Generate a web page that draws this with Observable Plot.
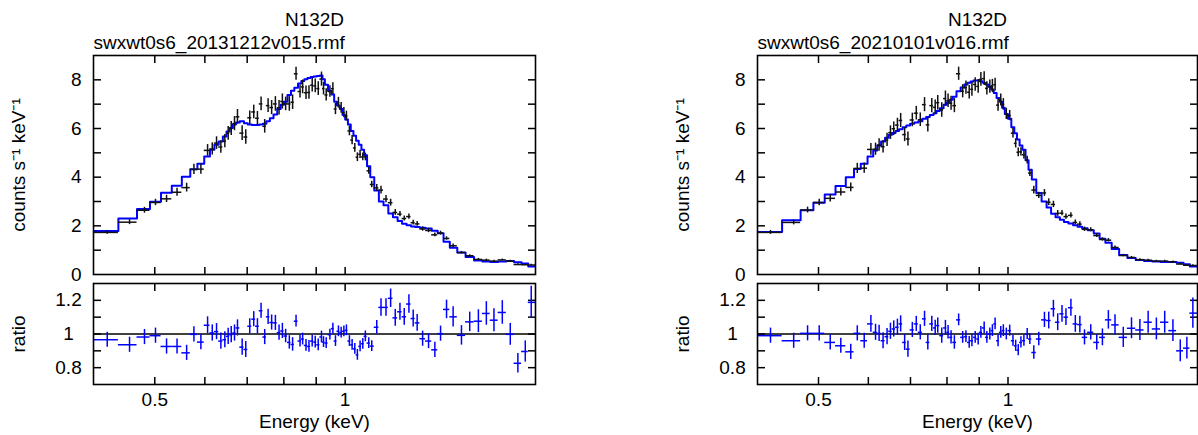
<!DOCTYPE html>
<html><head><meta charset="utf-8">
<script src="https://cdn.jsdelivr.net/npm/d3@7"></script>
<script src="https://cdn.jsdelivr.net/npm/@observablehq/plot@0.6"></script>
<style>
body{margin:0;background:#fff;}
#wrap{position:relative;width:1198px;height:435px;overflow:hidden;background:#fff;}
.holder{position:absolute;}
</style></head><body><div id="wrap"></div>
<script>
// ---------- axes / ticks ----------
const xDomain = [0.4, 2.0];
const countDomain = [0, 9];
const ratioDomain = [0.7, 1.3];
const xTicks = [0.5, 0.6, 0.7, 0.8, 0.9, 1];
const xLabels = [0.5, 1];
const countTicks = [1, 2, 3, 4, 5, 6, 7, 8];
const countLabels = [0, 2, 4, 6, 8];
const ratioTicks = [0.8, 0.9, 1.0, 1.1, 1.2];
const ratioLabels = [0.8, 1, 1.2];
const titleText = "N132D";
const rmfLeft = "swxwt0s6_20131212v015.rmf";
const rmfRight = "swxwt0s6_20210101v016.rmf";
const yLabelTop = "counts s\u207B\u00B9 keV\u207B\u00B9";
const yLabelBottom = "ratio";
const xLabelText = "Energy (keV)";

// ---------- left panel (2013) ----------
const energyL = [0.4205,0.4561,0.4816,0.5013,0.5219,0.5422,0.5615,0.5766,0.5914,0.6060,
 0.6164,0.6261,0.6360,0.6453,0.6532,0.6605,0.6684,0.6757,0.6873,0.6964,
 0.7066,0.7169,0.7266,0.7363,0.7461,0.7554,0.7652,0.7757,0.7861,0.7957,
 0.8052,0.8161,0.8259,0.8363,0.8485,0.8566,0.8672,0.8766,0.8870,0.8968,
 0.9067,0.9175,0.9243,0.9334,0.9460,0.9563,0.9654,0.9759,0.9856,0.9954,
 1.0047,1.0157,1.0257,1.0358,1.0456,1.0559,1.0664,1.0764,1.0898,1.1018,
 1.1220,1.1395,1.1604,1.1802,1.2002,1.2209,1.2401,1.2614,1.2812,1.2999,
 1.3259,1.3549,1.3864,1.4154,1.4466,1.4817,1.5274,1.5740,1.6245,1.6723,
 1.7192,1.7723,1.8245,1.8757,1.9269,1.9691];
const countsL = [1.73,2.15,2.64,2.96,3.11,3.38,3.57,4.32,4.33,5.10,
 5.16,5.40,5.24,5.48,5.80,6.00,6.20,6.48,5.81,5.65,
 6.44,6.68,6.42,7.01,6.09,6.94,6.86,7.01,6.85,7.11,
 7.01,7.01,7.08,8.25,7.52,7.71,7.47,7.48,7.78,7.75,
 7.64,8.03,7.64,7.38,7.52,7.64,6.80,7.06,6.85,6.65,
 6.51,5.90,5.52,5.20,4.82,4.94,4.83,4.83,4.26,3.70,
 3.56,3.47,3.10,2.95,2.55,2.48,2.30,2.38,2.13,2.08,
 1.87,1.81,1.63,1.70,1.48,1.18,0.90,0.77,0.62,0.59,
 0.55,0.60,0.55,0.41,0.40,0.39];
const countsErrL = [0.08,0.10,0.12,0.13,0.15,0.16,0.18,0.21,0.21,0.24,
 0.25,0.26,0.26,0.27,0.28,0.29,0.29,0.30,0.30,0.30,
 0.28,0.28,0.28,0.28,0.28,0.28,0.29,0.30,0.30,0.31,
 0.28,0.30,0.30,0.27,0.27,0.28,0.28,0.28,0.28,0.28,
 0.28,0.29,0.26,0.25,0.24,0.24,0.23,0.22,0.22,0.21,
 0.20,0.20,0.19,0.18,0.18,0.17,0.16,0.16,0.14,0.13,
 0.14,0.16,0.15,0.14,0.12,0.11,0.10,0.11,0.10,0.10,
 0.09,0.09,0.08,0.08,0.07,0.07,0.05,0.04,0.04,0.04,
 0.035,0.035,0.035,0.03,0.03,0.03];
const modelL = [1.79,2.30,2.69,2.99,3.36,3.65,4.02,4.33,4.55,4.85,
 5.13,5.33,5.47,5.67,5.88,6.02,6.16,6.25,6.30,6.22,
 6.16,6.14,6.14,6.16,6.20,6.30,6.42,6.58,6.80,6.98,
 7.10,7.38,7.55,7.67,7.85,7.95,8.02,8.08,8.12,8.14,
 8.16,8.18,8.02,7.80,7.55,7.40,7.10,6.95,6.80,6.55,
 6.37,6.16,5.90,5.70,5.50,5.33,5.13,4.90,4.45,4.00,
 3.45,3.00,2.85,2.51,2.35,2.20,2.09,2.02,1.97,1.95,
 1.92,1.89,1.80,1.70,1.35,1.10,0.90,0.72,0.58,0.53,
 0.51,0.53,0.55,0.50,0.45,0.33];
const ratioL = [0.966,0.936,0.982,0.990,0.926,0.926,0.888,0.998,0.952,1.052,
 1.006,1.014,0.958,0.966,0.986,0.996,1.006,1.036,0.922,0.908,
 1.046,1.088,1.046,1.138,0.982,1.102,1.068,1.066,1.008,1.018,
 0.988,0.950,0.938,1.076,0.958,0.970,0.932,0.926,0.958,0.952,
 0.936,0.982,0.952,0.946,0.996,1.032,0.958,1.016,1.008,1.016,
 1.022,0.958,0.936,0.912,0.876,0.926,0.942,0.986,0.946,0.928,
 1.040,1.158,1.158,1.212,1.096,1.132,1.102,1.178,1.092,1.066,
 0.972,0.958,0.906,1.002,1.146,1.102,0.992,1.072,1.076,1.122,
 1.082,1.128,0.998,0.826,0.896,1.188];
const ratioErrL = [0.045,0.045,0.045,0.045,0.045,0.045,0.045,0.045,0.045,0.05,
 0.048,0.048,0.048,0.048,0.048,0.048,0.048,0.048,0.048,0.048,
 0.045,0.045,0.045,0.045,0.045,0.045,0.045,0.045,0.045,0.045,
 0.04,0.04,0.04,0.035,0.035,0.035,0.035,0.035,0.035,0.035,
 0.035,0.035,0.032,0.032,0.032,0.032,0.032,0.032,0.032,0.032,
 0.032,0.032,0.032,0.032,0.032,0.032,0.032,0.032,0.032,0.032,
 0.04,0.052,0.052,0.055,0.05,0.05,0.05,0.055,0.05,0.05,
 0.045,0.045,0.045,0.045,0.055,0.06,0.058,0.058,0.068,0.07,
 0.068,0.07,0.065,0.058,0.063,0.095];

// ---------- right panel (2021) ----------
const energyR = [0.4195,0.4566,0.4804,0.5013,0.5219,0.5425,0.5626,0.5762,0.5910,0.6056,
 0.6160,0.6241,0.6332,0.6425,0.6505,0.6584,0.6673,0.6753,0.6852,0.6935,
 0.7047,0.7150,0.7255,0.7369,0.7458,0.7567,0.7662,0.7734,0.7848,0.7954,
 0.8032,0.8120,0.8219,0.8348,0.8472,0.8574,0.8677,0.8764,0.8869,0.8967,
 0.9056,0.9165,0.9256,0.9357,0.9445,0.9539,0.9643,0.9739,0.9831,0.9938,
 1.0062,1.0183,1.0285,1.0382,1.0484,1.0599,1.0727,1.0832,1.0990,1.1191,
 1.1426,1.1607,1.1807,1.1994,1.2183,1.2361,1.2587,1.2792,1.3006,1.3229,
 1.3535,1.3836,1.4125,1.4436,1.4791,1.5245,1.5711,1.6200,1.6696,1.7207,
 1.7739,1.8281,1.8778,1.9237,1.9664];
const countsR = [1.73,2.14,2.65,2.96,3.13,3.39,3.58,4.36,4.37,5.14,
 5.15,5.32,5.25,5.53,5.83,5.99,6.14,6.33,5.75,5.57,
 6.35,6.63,6.36,6.98,6.15,6.94,6.87,7.06,6.76,7.23,
 7.14,7.04,6.94,8.25,7.53,7.68,7.49,7.61,7.81,7.73,
 8.02,8.05,7.65,7.72,7.75,7.80,6.96,7.17,6.99,6.60,
 6.53,5.81,5.39,5.02,5.04,4.92,4.70,4.17,3.47,3.25,
 3.35,2.97,2.88,2.51,2.52,2.38,2.43,2.14,2.07,1.86,
 1.84,1.60,1.44,1.41,1.11,0.78,0.70,0.61,0.59,0.55,
 0.55,0.52,0.43,0.38,0.37];
const countsErrR = [0.08,0.10,0.12,0.13,0.15,0.16,0.18,0.21,0.21,0.24,
 0.25,0.26,0.26,0.27,0.28,0.28,0.28,0.29,0.29,0.29,
 0.28,0.28,0.28,0.29,0.29,0.29,0.30,0.30,0.30,0.31,
 0.28,0.29,0.29,0.27,0.27,0.27,0.28,0.28,0.28,0.28,
 0.28,0.28,0.27,0.27,0.27,0.26,0.25,0.25,0.24,0.23,
 0.21,0.20,0.19,0.18,0.17,0.17,0.16,0.14,0.16,0.13,
 0.14,0.14,0.13,0.12,0.11,0.11,0.11,0.10,0.10,0.09,
 0.08,0.08,0.07,0.07,0.06,0.05,0.04,0.04,0.035,0.035,
 0.035,0.035,0.03,0.03,0.03];
const modelR = [1.75,2.23,2.64,2.95,3.29,3.64,4.00,4.34,4.55,4.85,
 5.10,5.30,5.47,5.62,5.74,5.82,5.90,5.97,6.05,6.12,
 6.20,6.25,6.30,6.40,6.47,6.55,6.63,6.72,6.83,6.98,
 7.07,7.18,7.30,7.53,7.68,7.81,7.88,7.93,7.97,7.97,
 7.94,7.88,7.81,7.72,7.60,7.46,7.25,7.10,6.85,6.60,
 6.40,6.05,5.80,5.55,5.30,5.13,4.70,4.30,3.90,3.35,
 3.00,2.75,2.50,2.35,2.25,2.16,2.10,2.02,1.96,1.90,
 1.82,1.68,1.47,1.30,1.05,0.80,0.68,0.60,0.55,0.53,
 0.51,0.51,0.48,0.42,0.33];
const ratioR = [0.990,0.960,1.004,1.004,0.950,0.930,0.894,1.004,0.960,1.060,
 1.010,1.004,0.960,0.984,1.016,1.030,1.040,1.060,0.950,0.910,
 1.024,1.060,1.010,1.090,0.950,1.060,1.036,1.050,0.990,1.036,
 1.010,0.980,0.950,1.084,0.980,0.984,0.950,0.960,0.980,0.970,
 1.010,1.036,0.980,1.000,1.020,1.060,0.960,1.010,1.020,1.000,
 1.020,0.960,0.930,0.904,0.950,0.960,1.000,0.970,0.890,0.970,
 1.084,1.080,1.150,1.070,1.120,1.100,1.156,1.060,1.056,0.980,
 1.010,0.950,0.980,1.084,1.054,0.980,1.034,1.024,1.070,1.030,
 1.070,1.020,0.900,0.916,1.124];
const ratioErrR = [0.045,0.045,0.045,0.045,0.045,0.045,0.045,0.045,0.045,0.05,
 0.048,0.048,0.048,0.048,0.048,0.048,0.048,0.048,0.048,0.048,
 0.045,0.045,0.045,0.045,0.045,0.045,0.045,0.045,0.045,0.045,
 0.04,0.04,0.04,0.035,0.035,0.035,0.035,0.035,0.035,0.035,
 0.035,0.035,0.035,0.035,0.035,0.035,0.035,0.035,0.035,0.035,
 0.033,0.033,0.033,0.033,0.033,0.033,0.033,0.033,0.04,0.04,
 0.045,0.05,0.05,0.05,0.05,0.05,0.05,0.05,0.05,0.045,
 0.045,0.045,0.05,0.055,0.06,0.06,0.062,0.062,0.065,0.065,
 0.065,0.065,0.065,0.065,0.09];

// ---------- drawing ----------
const FONT = "'Liberation Sans', Arial, Helvetica, sans-serif";
const BLUE = "#0000ff";
const style = {fontFamily: FONT, fontSize: "19px", color: "black", background: "transparent", overflow: "visible"};

function edgesOf(E) {
  const ed = [xDomain[0]];
  for (let i = 1; i < E.length; i++) ed.push(Math.sqrt(E[i - 1] * E[i]));
  ed.push(xDomain[1]);
  return ed;
}

function tickAxes(xt, yt) {
  const common = {tickFormat: () => "", label: null, strokeWidth: 1.5};
  return [
    Plot.axisX(xt, {anchor: "bottom", tickSize: 7, dy: -7, ...common}),
    Plot.axisX(xt, {anchor: "top", tickSize: 7, dy: 7, ...common}),
    Plot.axisY(yt, {anchor: "left", tickSize: 8, dx: 8, ...common}),
    Plot.axisY(yt, {anchor: "right", tickSize: 8, dx: -8, ...common})
  ];
}

function makePanel(left, width, frameW, rmf, E, counts, countsErr, model, ratio, ratioErr) {
  const ed = edgesOf(E);
  const rows = E.map((e, i) => ({e, lo: ed[i], hi: ed[i + 1], c: counts[i], ce: countsErr[i], m: model[i], r: ratio[i], re: ratioErr[i]}));
  const steps = rows.flatMap(d => [{x: d.lo, y: d.m}, {x: d.hi, y: d.m}]);
  const mr = width - 93 - frameW;

  const top = Plot.plot({
    width, height: 278, marginLeft: 93, marginRight: mr, marginTop: 55, marginBottom: 4,
    x: {type: "log", domain: xDomain},
    y: {domain: countDomain},
    style,
    marks: [
      ...tickAxes(xTicks, countTicks),
      Plot.axisY(countLabels, {anchor: "left", tickSize: 0, tickPadding: 12, label: null, tickFormat: d => String(d)}),
      Plot.line(steps, {x: "x", y: "y", stroke: BLUE, strokeWidth: 2, clip: true}),
      Plot.ruleY(rows, {y: "c", x1: "lo", x2: "hi", stroke: "#111", strokeWidth: 1.5}),
      Plot.ruleX(rows, {x: "e", y1: d => d.c - d.ce, y2: d => d.c + d.ce, stroke: "#111", strokeWidth: 1.5}),
      Plot.frame({stroke: "black", strokeWidth: 1.6}),
      Plot.text([titleText], {text: d => d, frameAnchor: "top", textAnchor: "middle", dy: -30, lineAnchor: "bottom"}),
      Plot.text([rmf], {text: d => d, frameAnchor: "top-left", textAnchor: "start", dy: -7, lineAnchor: "bottom"}),
      Plot.text([yLabelTop], {text: d => d, frameAnchor: "left", textAnchor: "middle", dx: -69, rotate: -90, lineAnchor: "bottom"})
    ]
  });

  const bottom = Plot.plot({
    width, height: 157, marginLeft: 93, marginRight: mr, marginTop: 5, marginBottom: 51,
    x: {type: "log", domain: xDomain},
    y: {domain: ratioDomain},
    style,
    marks: [
      ...tickAxes(xTicks, ratioTicks),
      Plot.axisY(ratioLabels, {anchor: "left", tickSize: 0, tickPadding: 25, textAnchor: "middle", label: null, tickFormat: d => String(d)}),
      Plot.axisX(xLabels, {anchor: "bottom", tickSize: 0, tickPadding: 8, label: null, tickFormat: d => String(d)}),
      Plot.ruleY([1], {stroke: "black", strokeWidth: 1.5}),
      Plot.ruleY(rows, {y: "r", x1: "lo", x2: "hi", stroke: BLUE, strokeWidth: 1.5}),
      Plot.ruleX(rows, {x: "e", y1: d => d.r - d.re, y2: d => d.r + d.re, stroke: BLUE, strokeWidth: 1.5}),
      Plot.frame({stroke: "black", strokeWidth: 1.6}),
      Plot.text([yLabelBottom], {text: d => d, frameAnchor: "left", textAnchor: "middle", dx: -69, rotate: -90, lineAnchor: "bottom"}),
      Plot.text([xLabelText], {text: d => d, frameAnchor: "bottom", textAnchor: "middle", dy: 43, lineAnchor: "bottom"})
    ]
  });

  const wrap = document.getElementById("wrap");
  const h1 = document.createElement("div");
  h1.className = "holder"; h1.style.left = left + "px"; h1.style.top = "0px"; h1.style.width = width + "px";
  h1.appendChild(top);
  const h2 = document.createElement("div");
  h2.className = "holder"; h2.style.left = left + "px"; h2.style.top = "278px"; h2.style.width = width + "px";
  h2.appendChild(bottom);
  wrap.appendChild(h1);
  wrap.appendChild(h2);
}

makePanel(0, 600, 442, rmfLeft, energyL, countsL, countsErrL, modelL, ratioL, ratioErrL);
makePanel(664, 534, 440, rmfRight, energyR, countsR, countsErrR, modelR, ratioR, ratioErrR);
</script>
</body></html>
